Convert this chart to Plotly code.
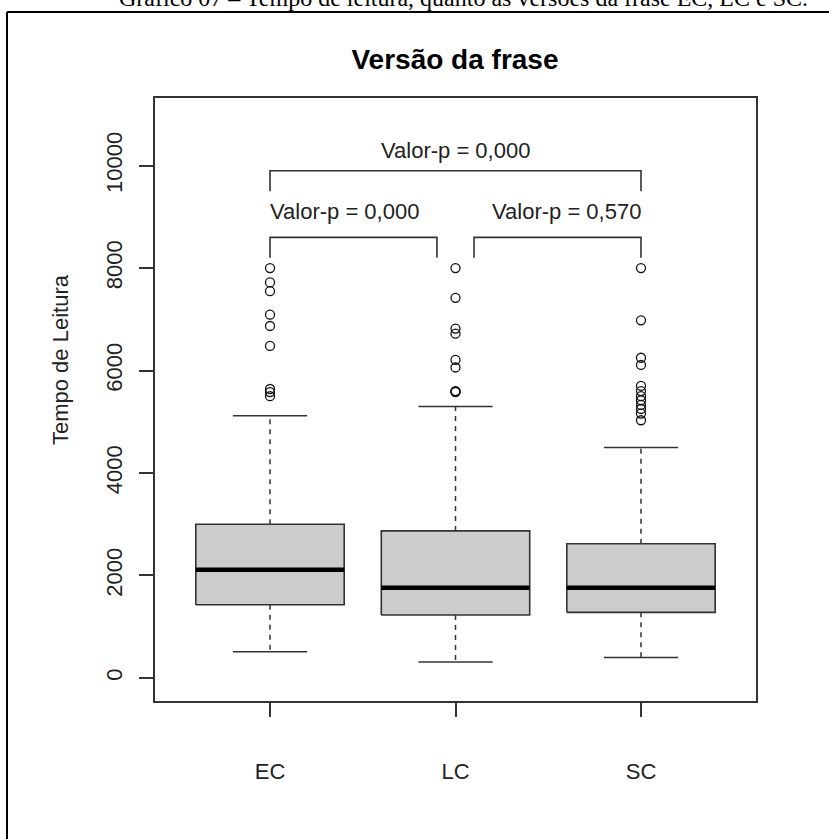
import plotly.graph_objects as go

# Reading-time summary per sentence version
groups = ["EC", "LC", "SC"]
lower_whisker = [510, 310, 400]
q1 = [1430, 1230, 1280]
median = [2110, 1760, 1760]
q3 = [3000, 2870, 2620]
upper_whisker = [5120, 5300, 4500]
outliers_ec = [8000, 7720, 7550, 7090, 6870, 6480, 5640, 5580, 5500]
outliers_lc = [8000, 7420, 6820, 6720, 6210, 6060, 5600, 5590, 5580]
outliers_sc = [8000, 6980, 6250, 6110, 5700, 5600, 5500, 5420, 5330, 5250, 5160, 5030]
outliers = [outliers_ec, outliers_lc, outliers_sc]

# Pairwise comparisons drawn as brackets above the boxes
bracket_from = [1.0, 2.1, 1.0]
bracket_to = [1.9, 3.0, 3.0]
bracket_level = [8600, 8600, 9900]
bracket_drop = 400
label_x = [1.4, 2.6, 2.0]
label_y = [9100, 9100, 10300]
p_values = ["0,000", "0,570", "0,000"]

y_ticks = [0, 2000, 4000, 6000, 8000, 10000]

FONT = "Liberation Sans, Arial, sans-serif"
INK = "#222222"
BOX_HALF = 0.4
CAP_HALF = 0.2

fig = go.Figure()

for i, name in enumerate(groups):
    x = i + 1
    # box body
    fig.add_trace(go.Scatter(
        x=[x - BOX_HALF, x + BOX_HALF, x + BOX_HALF, x - BOX_HALF, x - BOX_HALF],
        y=[q1[i], q1[i], q3[i], q3[i], q1[i]],
        mode="lines", fill="toself", fillcolor="#cccccc",
        line=dict(color="#333333", width=1.6), hoverinfo="skip", showlegend=False))
    # median
    fig.add_trace(go.Scatter(
        x=[x - BOX_HALF, x + BOX_HALF], y=[median[i], median[i]],
        mode="lines", line=dict(color="#000000", width=4.5),
        hoverinfo="skip", showlegend=False))
    # dashed whiskers
    fig.add_trace(go.Scatter(
        x=[x, x, None, x, x],
        y=[q3[i], upper_whisker[i], None, q1[i], lower_whisker[i]],
        mode="lines", line=dict(color="#333333", width=1.5, dash="5px,5px"),
        hoverinfo="skip", showlegend=False))
    # whisker caps
    fig.add_trace(go.Scatter(
        x=[x - CAP_HALF, x + CAP_HALF, None, x - CAP_HALF, x + CAP_HALF],
        y=[upper_whisker[i], upper_whisker[i], None, lower_whisker[i], lower_whisker[i]],
        mode="lines", line=dict(color="#333333", width=1.5),
        hoverinfo="skip", showlegend=False))
    # outliers
    fig.add_trace(go.Scatter(
        x=[x] * len(outliers[i]), y=outliers[i], mode="markers",
        marker=dict(symbol="circle-open", size=9, color="#111111", line=dict(width=1.3)),
        hoverinfo="skip", showlegend=False))

# comparison brackets and p-value labels
for a, b, lvl, lx, ly, p in zip(bracket_from, bracket_to, bracket_level, label_x, label_y, p_values):
    fig.add_trace(go.Scatter(
        x=[a, a, b, b], y=[lvl - bracket_drop, lvl, lvl, lvl - bracket_drop],
        mode="lines", line=dict(color="#333333", width=1.6),
        hoverinfo="skip", showlegend=False))
    fig.add_annotation(x=lx, y=ly, xref="x", yref="y", text=f"Valor-p = {p}",
                       showarrow=False, font=dict(family=FONT, size=22, color=INK))

# y-axis title
fig.add_annotation(x=-0.158, y=(701 - 360) / 603, xref="paper", yref="paper",
                   text="Tempo de Leitura", textangle=-90, showarrow=False,
                   xanchor="center", yanchor="middle",
                   font=dict(family=FONT, size=22, color=INK))

# document caption running above the figure frame
fig.add_annotation(x=0.514, y=(701 + 2) / 603, xref="paper", yref="paper",
                   text="Gráfico 07 – Tempo de leitura, quanto às versões da frase EC, LC e SC.",
                   showarrow=False, xanchor="center", yanchor="middle",
                   font=dict(family="Liberation Serif, Times New Roman, serif", size=24, color="#000000"))

# figure frame (left and top edges)
frame_x = (7 - 155) / 601
frame_y = (701 - 12) / 603
fig.add_shape(type="line", xref="paper", yref="paper", x0=frame_x, x1=frame_x,
              y0=frame_y, y1=-0.5, line=dict(color="#000000", width=2))
fig.add_shape(type="line", xref="paper", yref="paper", x0=frame_x, x1=1.5,
              y0=frame_y, y1=frame_y, line=dict(color="#000000", width=2))

axis_common = dict(showline=True, mirror=True, linecolor="#333333", linewidth=1.5,
                   showgrid=False, zeroline=False, ticks="outside", ticklen=14,
                   tickwidth=1.5, tickcolor="#333333",
                   tickfont=dict(family=FONT, size=22, color=INK))

fig.update_layout(
    width=829, height=839,
    margin=dict(l=155, r=73, t=98, b=138),
    paper_bgcolor="white", plot_bgcolor="white",
    title=dict(text="<b>Versão da frase</b>", x=(455 / 829), xanchor="center",
               y=1 - 59 / 839, yanchor="middle", yref="container",
               font=dict(family=FONT, size=28, color="#000000")),
    xaxis=dict(range=[0.38, 3.62], tickvals=[1, 2, 3], ticktext=groups,
               ticklabelstandoff=36, **axis_common),
    yaxis=dict(range=[-450, 11320], tickvals=y_ticks,
               ticktext=[str(v) for v in y_ticks], tickangle=-90,
               ticklabelstandoff=8, **axis_common),
)

fig.write_html("out.html")
